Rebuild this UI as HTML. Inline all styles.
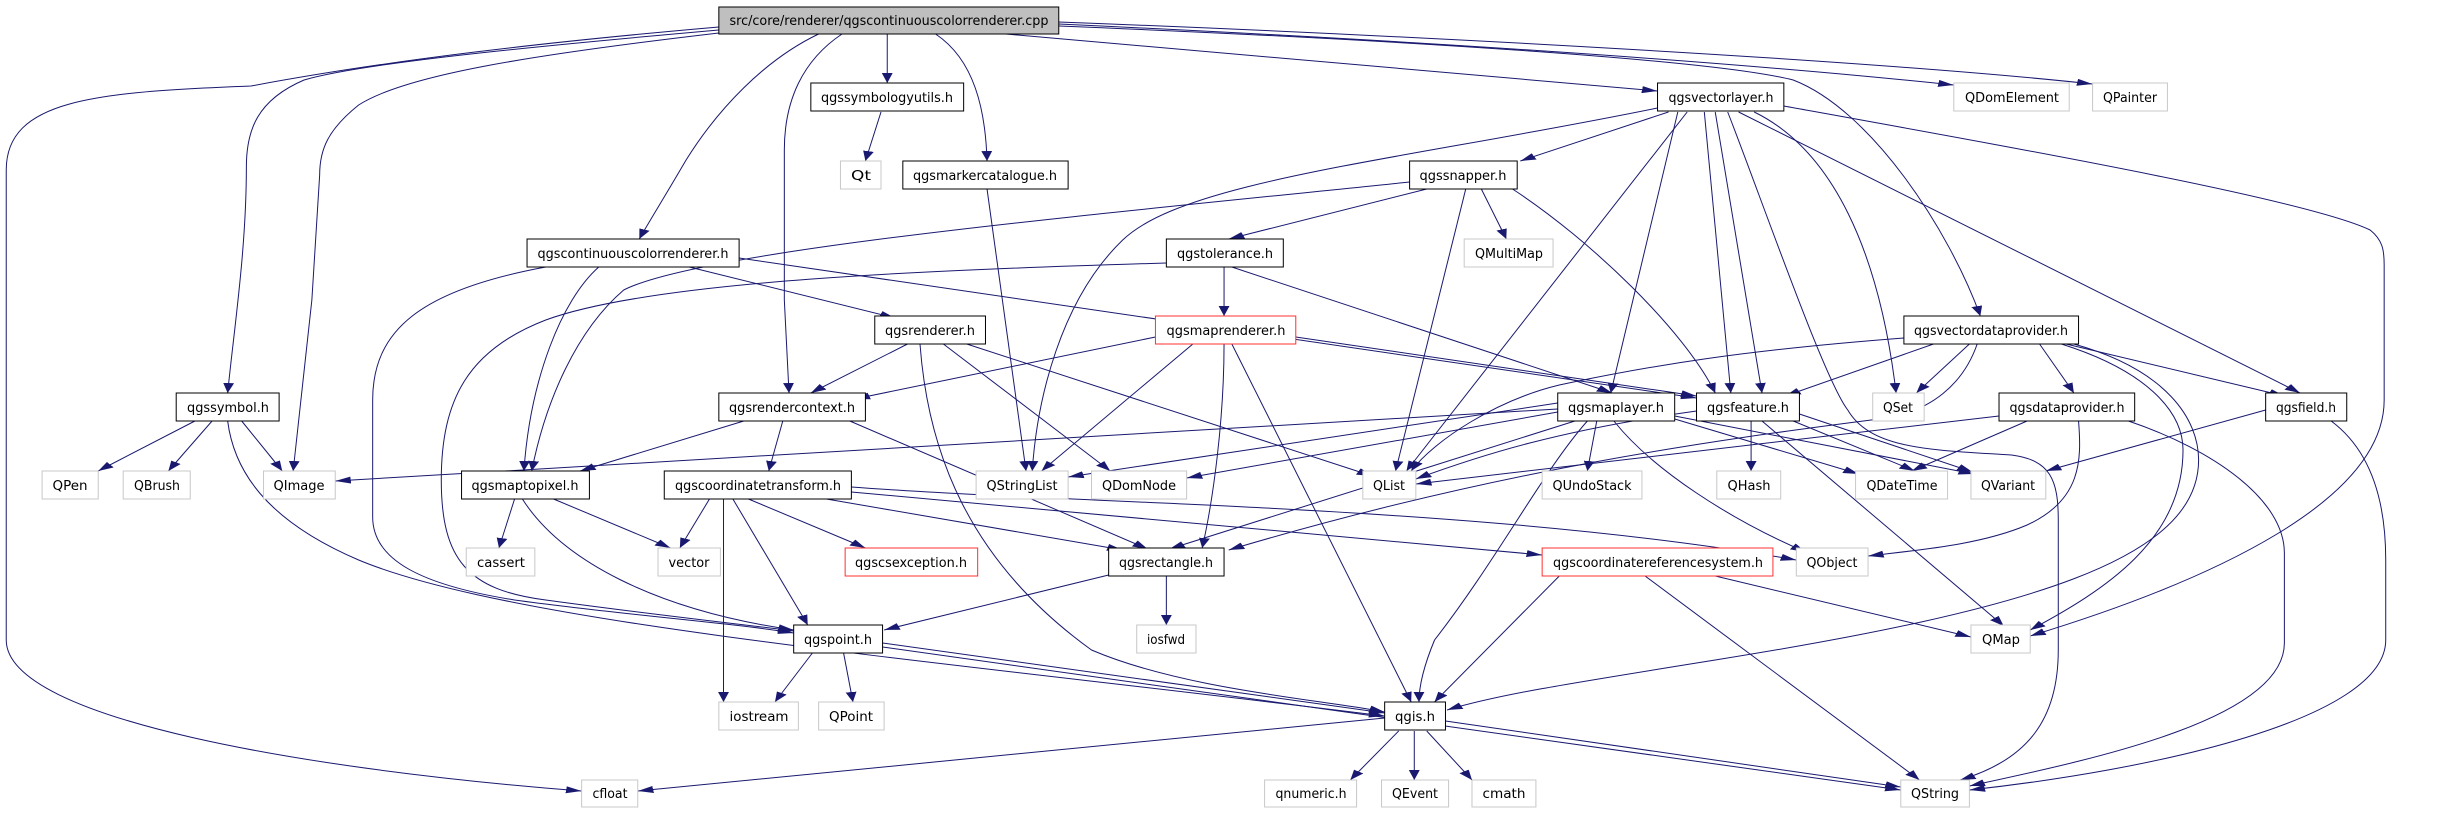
<!DOCTYPE html>
<html><head><meta charset="utf-8"><style>html,body{margin:0;padding:0;background:#fff;}svg{display:block}</style></head>
<body>
<svg width="2445" height="813" viewBox="0 0 2445 813" xmlns="http://www.w3.org/2000/svg">
<defs>
<marker id="a" markerUnits="userSpaceOnUse" markerWidth="10" markerHeight="7" refX="10" refY="3.5" orient="auto"><path d="M0,0 L10,3.5 L0,7 z" fill="#191970"/></marker>
</defs>
<g transform="scale(1.5593,1)">
<g fill="none" stroke="#191970" stroke-width="1" vector-effect="non-scaling-stroke" marker-end="url(#a)">
<path vector-effect="non-scaling-stroke" d="M461,27 C350,42 250,60 161,86 C60,92 4,100 4,170 L4,640 C4,720 200,770 373,791"/>
<path vector-effect="non-scaling-stroke" d="M461,30 C330,48 230,64 195,80 C165,100 158,130 158,167 C158,250 150,330 146,393"/>
<path vector-effect="non-scaling-stroke" d="M461,33 C340,55 260,75 230,105 C210,130 205,150 205,175 L200,300 L188,471"/>
<path vector-effect="non-scaling-stroke" d="M525,34 C490,60 460,110 440,160 C425,200 415,225 410,239"/>
<path vector-effect="non-scaling-stroke" d="M540,34 C515,60 503,100 503,150 L503,300 L506,393"/>
<path vector-effect="non-scaling-stroke" d="M569,34 L569,83"/>
<path vector-effect="non-scaling-stroke" d="M600,34 C625,60 632,110 633,161"/>
<path vector-effect="non-scaling-stroke" d="M645,34 L1063,91"/>
<path vector-effect="non-scaling-stroke" d="M679,24 C900,40 1100,60 1253,85"/>
<path vector-effect="non-scaling-stroke" d="M679,22 C900,35 1200,60 1342,84"/>
<path vector-effect="non-scaling-stroke" d="M679,26 C900,40 1100,60 1150,80 C1200,110 1250,230 1270,316"/>
<path vector-effect="non-scaling-stroke" d="M565,112 L555,161"/>
<path vector-effect="non-scaling-stroke" d="M633,189 L658,471"/>
<path vector-effect="non-scaling-stroke" d="M442,267 L574,318"/>
<path vector-effect="non-scaling-stroke" d="M474,258 L1088,398"/>
<path vector-effect="non-scaling-stroke" d="M384,267 C360,300 340,380 336,471"/>
<path vector-effect="non-scaling-stroke" d="M350,267 C270,290 239,330 239,400 L239,517 C239,560 270,585 330,600 C400,615 470,623 509,633"/>
<path vector-effect="non-scaling-stroke" d="M904,182 C700,215 450,250 400,290 C370,330 350,400 341,471"/>
<path vector-effect="non-scaling-stroke" d="M748,263 C600,270 420,280 350,320 C300,350 283,400 283,480 C283,560 300,590 350,600 C420,615 480,625 509,631"/>
<path vector-effect="non-scaling-stroke" d="M785,267 L785,316"/>
<path vector-effect="non-scaling-stroke" d="M790,267 L1034,393"/>
<path vector-effect="non-scaling-stroke" d="M915,189 L788,239"/>
<path vector-effect="non-scaling-stroke" d="M950,189 L966,239"/>
<path vector-effect="non-scaling-stroke" d="M940,189 L895,471"/>
<path vector-effect="non-scaling-stroke" d="M970,189 C1020,240 1080,330 1100,393"/>
<path vector-effect="non-scaling-stroke" d="M582,344 L520,393"/>
<path vector-effect="non-scaling-stroke" d="M590,344 C595,450 620,560 700,650 C760,690 850,700 888,712"/>
<path vector-effect="non-scaling-stroke" d="M605,344 L712,471"/>
<path vector-effect="non-scaling-stroke" d="M620,344 L880,476"/>
<path vector-effect="non-scaling-stroke" d="M741,337 L548,399"/>
<path vector-effect="non-scaling-stroke" d="M765,344 L668,471"/>
<path vector-effect="non-scaling-stroke" d="M785,344 C785,420 778,500 771,548"/>
<path vector-effect="non-scaling-stroke" d="M790,344 L905,702"/>
<path vector-effect="non-scaling-stroke" d="M831,337 L1088,396"/>
<path vector-effect="non-scaling-stroke" d="M1070,112 L975,161"/>
<path vector-effect="non-scaling-stroke" d="M1063,108 C900,160 760,180 720,240 C680,300 665,400 662,471"/>
<path vector-effect="non-scaling-stroke" d="M1076,112 L1033,393"/>
<path vector-effect="non-scaling-stroke" d="M1082,112 L902,471"/>
<path vector-effect="non-scaling-stroke" d="M1093,112 L1110,393"/>
<path vector-effect="non-scaling-stroke" d="M1100,112 L1130,393"/>
<path vector-effect="non-scaling-stroke" d="M1108,112 C1130,200 1170,380 1185,410 C1200,450 1240,450 1290,455 C1315,460 1320,480 1320,520 L1320,650 C1320,720 1300,760 1257,780"/>
<path vector-effect="non-scaling-stroke" d="M1125,112 C1175,150 1205,250 1216,393"/>
<path vector-effect="non-scaling-stroke" d="M1115,112 L1475,393"/>
<path vector-effect="non-scaling-stroke" d="M1144,106 C1300,150 1480,200 1520,230 C1528,240 1529,250 1529,265 L1529,400 C1529,500 1420,580 1302,636"/>
<path vector-effect="non-scaling-stroke" d="M1240,344 L1145,396"/>
<path vector-effect="non-scaling-stroke" d="M1263,344 L1229,393"/>
<path vector-effect="non-scaling-stroke" d="M1308,344 L1330,393"/>
<path vector-effect="non-scaling-stroke" d="M1325,344 L1465,396"/>
<path vector-effect="non-scaling-stroke" d="M1221,338 C1120,350 1060,365 1000,385 C960,400 920,440 905,471"/>
<path vector-effect="non-scaling-stroke" d="M1268,344 C1260,380 1240,415 1200,420 C1100,440 960,470 788,550"/>
<path vector-effect="non-scaling-stroke" d="M1322,344 C1375,370 1400,410 1400,450 C1400,540 1350,590 1302,630"/>
<path vector-effect="non-scaling-stroke" d="M1330,344 C1390,370 1410,420 1410,460 C1410,560 1300,610 1100,660 C1000,685 960,695 928,710"/>
<path vector-effect="non-scaling-stroke" d="M125,421 L63,471"/>
<path vector-effect="non-scaling-stroke" d="M136,421 L108,471"/>
<path vector-effect="non-scaling-stroke" d="M155,421 L181,471"/>
<path vector-effect="non-scaling-stroke" d="M146,421 C150,470 170,520 230,560 C330,625 600,660 888,716"/>
<path vector-effect="non-scaling-stroke" d="M477,421 L372,471"/>
<path vector-effect="non-scaling-stroke" d="M502,421 L493,471"/>
<path vector-effect="non-scaling-stroke" d="M545,421 L736,549"/>
<path vector-effect="non-scaling-stroke" d="M999,403 L685,477"/>
<path vector-effect="non-scaling-stroke" d="M999,409 L215,481"/>
<path vector-effect="non-scaling-stroke" d="M999,412 L761,478"/>
<path vector-effect="non-scaling-stroke" d="M1010,421 L750,549"/>
<path vector-effect="non-scaling-stroke" d="M1018,421 C990,470 960,560 920,640 C912,670 910,690 910,702"/>
<path vector-effect="non-scaling-stroke" d="M1024,421 L1018,471"/>
<path vector-effect="non-scaling-stroke" d="M1035,421 C1060,470 1110,520 1158,552"/>
<path vector-effect="non-scaling-stroke" d="M1074,419 L1192,474"/>
<path vector-effect="non-scaling-stroke" d="M1074,416 L1266,474"/>
<path vector-effect="non-scaling-stroke" d="M1088,411 C1000,430 950,455 908,479"/>
<path vector-effect="non-scaling-stroke" d="M1123,421 L1123,471"/>
<path vector-effect="non-scaling-stroke" d="M1130,421 L1285,626"/>
<path vector-effect="non-scaling-stroke" d="M1150,421 L1228,471"/>
<path vector-effect="non-scaling-stroke" d="M1154,414 L1265,472"/>
<path vector-effect="non-scaling-stroke" d="M1282,416 L908,484"/>
<path vector-effect="non-scaling-stroke" d="M1300,421 L1226,471"/>
<path vector-effect="non-scaling-stroke" d="M1333,421 C1335,460 1335,500 1300,525 C1270,545 1230,550 1198,556"/>
<path vector-effect="non-scaling-stroke" d="M1365,421 C1420,450 1465,500 1465,553 L1465,643 C1465,720 1340,760 1263,786"/>
<path vector-effect="non-scaling-stroke" d="M1453,410 L1312,471"/>
<path vector-effect="non-scaling-stroke" d="M1495,421 C1520,450 1530,500 1530,560 L1530,640 C1530,720 1380,770 1263,790"/>
<path vector-effect="non-scaling-stroke" d="M455,499 L436,548"/>
<path vector-effect="non-scaling-stroke" d="M464,499 L464,702"/>
<path vector-effect="non-scaling-stroke" d="M470,499 L518,625"/>
<path vector-effect="non-scaling-stroke" d="M480,499 L555,548"/>
<path vector-effect="non-scaling-stroke" d="M530,499 L720,550"/>
<path vector-effect="non-scaling-stroke" d="M546,492 L989,555"/>
<path vector-effect="non-scaling-stroke" d="M546,487 C700,505 950,505 1152,560"/>
<path vector-effect="non-scaling-stroke" d="M330,499 L320,548"/>
<path vector-effect="non-scaling-stroke" d="M355,499 L430,548"/>
<path vector-effect="non-scaling-stroke" d="M335,499 C360,560 420,610 509,630"/>
<path vector-effect="non-scaling-stroke" d="M711,575 L567,630"/>
<path vector-effect="non-scaling-stroke" d="M748,576 L748,625"/>
<path vector-effect="non-scaling-stroke" d="M521,653 L497,702"/>
<path vector-effect="non-scaling-stroke" d="M541,653 L547,702"/>
<path vector-effect="non-scaling-stroke" d="M566,643 L888,713"/>
<path vector-effect="non-scaling-stroke" d="M566,647 L1219,790"/>
<path vector-effect="non-scaling-stroke" d="M888,718 L409,791"/>
<path vector-effect="non-scaling-stroke" d="M897,731 L866,780"/>
<path vector-effect="non-scaling-stroke" d="M907,731 L907,780"/>
<path vector-effect="non-scaling-stroke" d="M915,731 L944,780"/>
<path vector-effect="non-scaling-stroke" d="M927,721 L1219,787"/>
<path vector-effect="non-scaling-stroke" d="M1000,576 L920,702"/>
<path vector-effect="non-scaling-stroke" d="M1100,576 L1264,637"/>
<path vector-effect="non-scaling-stroke" d="M1055,576 L1231,780"/>
</g>
<g stroke-width="1">
<rect x="461" y="7" width="218" height="27" fill="#bfbfbf" stroke="#000" vector-effect="non-scaling-stroke"/>
<g fill="#fff" stroke="#000">
<rect vector-effect="non-scaling-stroke" x="520" y="83" width="98" height="28"/>
<rect vector-effect="non-scaling-stroke" x="579" y="161" width="106" height="28"/>
<rect vector-effect="non-scaling-stroke" x="1063" y="83" width="81" height="28"/>
<rect vector-effect="non-scaling-stroke" x="904" y="161" width="69" height="28"/>
<rect vector-effect="non-scaling-stroke" x="338" y="239" width="136" height="28"/>
<rect vector-effect="non-scaling-stroke" x="748" y="239" width="75" height="28"/>
<rect vector-effect="non-scaling-stroke" x="561" y="316" width="71" height="28"/>
<rect vector-effect="non-scaling-stroke" x="1221" y="316" width="112" height="28"/>
<rect vector-effect="non-scaling-stroke" x="113" y="393" width="66" height="28"/>
<rect vector-effect="non-scaling-stroke" x="461" y="393" width="94" height="28"/>
<rect vector-effect="non-scaling-stroke" x="999" y="393" width="75" height="28"/>
<rect vector-effect="non-scaling-stroke" x="1088" y="393" width="66" height="28"/>
<rect vector-effect="non-scaling-stroke" x="1282" y="393" width="87" height="28"/>
<rect vector-effect="non-scaling-stroke" x="1453" y="393" width="52" height="28"/>
<rect vector-effect="non-scaling-stroke" x="296" y="471" width="82" height="28"/>
<rect vector-effect="non-scaling-stroke" x="426" y="471" width="120" height="28"/>
<rect vector-effect="non-scaling-stroke" x="711" y="548" width="74" height="28"/>
<rect vector-effect="non-scaling-stroke" x="509" y="625" width="57" height="28"/>
<rect vector-effect="non-scaling-stroke" x="888" y="702" width="39" height="28"/>
</g>
<g fill="#fff" stroke="#ff3030">
<rect vector-effect="non-scaling-stroke" x="741" y="316" width="90" height="28"/>
<rect vector-effect="non-scaling-stroke" x="542" y="548" width="85" height="28"/>
<rect vector-effect="non-scaling-stroke" x="989" y="548" width="148" height="28"/>
</g>
<g fill="#fff" stroke="#c8c8c8">
<rect vector-effect="non-scaling-stroke" x="539" y="161" width="26" height="28"/>
<rect vector-effect="non-scaling-stroke" x="1253" y="83" width="74" height="28"/>
<rect vector-effect="non-scaling-stroke" x="1342" y="83" width="48" height="28"/>
<rect vector-effect="non-scaling-stroke" x="939" y="239" width="57" height="28"/>
<rect vector-effect="non-scaling-stroke" x="1201" y="393" width="33" height="28"/>
<rect vector-effect="non-scaling-stroke" x="27" y="471" width="36" height="28"/>
<rect vector-effect="non-scaling-stroke" x="79" y="471" width="43" height="28"/>
<rect vector-effect="non-scaling-stroke" x="169" y="471" width="46" height="28"/>
<rect vector-effect="non-scaling-stroke" x="626" y="471" width="59" height="28"/>
<rect vector-effect="non-scaling-stroke" x="700" y="471" width="61" height="28"/>
<rect vector-effect="non-scaling-stroke" x="874" y="471" width="34" height="28"/>
<rect vector-effect="non-scaling-stroke" x="989" y="471" width="64" height="28"/>
<rect vector-effect="non-scaling-stroke" x="1101" y="471" width="41" height="28"/>
<rect vector-effect="non-scaling-stroke" x="1190" y="471" width="59" height="28"/>
<rect vector-effect="non-scaling-stroke" x="1264" y="471" width="48" height="28"/>
<rect vector-effect="non-scaling-stroke" x="299" y="548" width="44" height="28"/>
<rect vector-effect="non-scaling-stroke" x="422" y="548" width="40" height="28"/>
<rect vector-effect="non-scaling-stroke" x="1152" y="548" width="46" height="28"/>
<rect vector-effect="non-scaling-stroke" x="729" y="625" width="38" height="28"/>
<rect vector-effect="non-scaling-stroke" x="1264" y="625" width="38" height="28"/>
<rect vector-effect="non-scaling-stroke" x="461" y="702" width="51" height="28"/>
<rect vector-effect="non-scaling-stroke" x="525" y="702" width="42" height="28"/>
<rect vector-effect="non-scaling-stroke" x="373" y="780" width="36" height="27"/>
<rect vector-effect="non-scaling-stroke" x="811" y="780" width="59" height="27"/>
<rect vector-effect="non-scaling-stroke" x="886" y="780" width="43" height="27"/>
<rect vector-effect="non-scaling-stroke" x="944" y="780" width="41" height="27"/>
<rect vector-effect="non-scaling-stroke" x="1219" y="780" width="44" height="27"/>
</g>
</g>
</g>
<g font-family="'DejaVu Sans','Liberation Sans',sans-serif" font-size="13" text-anchor="middle" fill="#000">
<text x="889" y="25" textLength="319" lengthAdjust="spacingAndGlyphs">src/core/renderer/qgscontinuouscolorrenderer.cpp</text>
<text x="887" y="102" textLength="132" lengthAdjust="spacingAndGlyphs">qgssymbologyutils.h</text>
<text x="1721" y="102" textLength="105" lengthAdjust="spacingAndGlyphs">qgsvectorlayer.h</text>
<text x="2012" y="102" textLength="94" lengthAdjust="spacingAndGlyphs">QDomElement</text>
<text x="2130" y="102" textLength="54" lengthAdjust="spacingAndGlyphs">QPainter</text>
<text x="861" y="180" textLength="20" lengthAdjust="spacingAndGlyphs">Qt</text>
<text x="985" y="180" textLength="144" lengthAdjust="spacingAndGlyphs">qgsmarkercatalogue.h</text>
<text x="1463" y="180" textLength="87" lengthAdjust="spacingAndGlyphs">qgssnapper.h</text>
<text x="633" y="258" textLength="191" lengthAdjust="spacingAndGlyphs">qgscontinuouscolorrenderer.h</text>
<text x="1225" y="258" textLength="96" lengthAdjust="spacingAndGlyphs">qgstolerance.h</text>
<text x="1509" y="258" textLength="68" lengthAdjust="spacingAndGlyphs">QMultiMap</text>
<text x="930" y="335" textLength="90" lengthAdjust="spacingAndGlyphs">qgsrenderer.h</text>
<text x="1226" y="335" textLength="119" lengthAdjust="spacingAndGlyphs">qgsmaprenderer.h</text>
<text x="1991" y="335" textLength="154" lengthAdjust="spacingAndGlyphs">qgsvectordataprovider.h</text>
<text x="228" y="412" textLength="82" lengthAdjust="spacingAndGlyphs">qgssymbol.h</text>
<text x="792" y="412" textLength="126" lengthAdjust="spacingAndGlyphs">qgsrendercontext.h</text>
<text x="1616" y="412" textLength="96" lengthAdjust="spacingAndGlyphs">qgsmaplayer.h</text>
<text x="1748" y="412" textLength="82" lengthAdjust="spacingAndGlyphs">qgsfeature.h</text>
<text x="1898" y="412" textLength="30" lengthAdjust="spacingAndGlyphs">QSet</text>
<text x="2067" y="412" textLength="115" lengthAdjust="spacingAndGlyphs">qgsdataprovider.h</text>
<text x="2306" y="412" textLength="60" lengthAdjust="spacingAndGlyphs">qgsfield.h</text>
<text x="70" y="490" textLength="35" lengthAdjust="spacingAndGlyphs">QPen</text>
<text x="157" y="490" textLength="46" lengthAdjust="spacingAndGlyphs">QBrush</text>
<text x="299" y="490" textLength="51" lengthAdjust="spacingAndGlyphs">QImage</text>
<text x="525" y="490" textLength="107" lengthAdjust="spacingAndGlyphs">qgsmaptopixel.h</text>
<text x="758" y="490" textLength="166" lengthAdjust="spacingAndGlyphs">qgscoordinatetransform.h</text>
<text x="1022" y="490" textLength="71" lengthAdjust="spacingAndGlyphs">QStringList</text>
<text x="1139" y="490" textLength="74" lengthAdjust="spacingAndGlyphs">QDomNode</text>
<text x="1389" y="490" textLength="32" lengthAdjust="spacingAndGlyphs">QList</text>
<text x="1592" y="490" textLength="79" lengthAdjust="spacingAndGlyphs">QUndoStack</text>
<text x="1749" y="490" textLength="43" lengthAdjust="spacingAndGlyphs">QHash</text>
<text x="1902" y="490" textLength="71" lengthAdjust="spacingAndGlyphs">QDateTime</text>
<text x="2008" y="490" textLength="54" lengthAdjust="spacingAndGlyphs">QVariant</text>
<text x="501" y="567" textLength="48" lengthAdjust="spacingAndGlyphs">cassert</text>
<text x="689" y="567" textLength="41" lengthAdjust="spacingAndGlyphs">vector</text>
<text x="911" y="567" textLength="112" lengthAdjust="spacingAndGlyphs">qgscsexception.h</text>
<text x="1166" y="567" textLength="94" lengthAdjust="spacingAndGlyphs">qgsrectangle.h</text>
<text x="1658" y="567" textLength="210" lengthAdjust="spacingAndGlyphs">qgscoordinatereferencesystem.h</text>
<text x="1832" y="567" textLength="51" lengthAdjust="spacingAndGlyphs">QObject</text>
<text x="838" y="644" textLength="68" lengthAdjust="spacingAndGlyphs">qgspoint.h</text>
<text x="1166" y="644" textLength="38" lengthAdjust="spacingAndGlyphs">iosfwd</text>
<text x="2001" y="644" textLength="38" lengthAdjust="spacingAndGlyphs">QMap</text>
<text x="759" y="721" textLength="59" lengthAdjust="spacingAndGlyphs">iostream</text>
<text x="851" y="721" textLength="44" lengthAdjust="spacingAndGlyphs">QPoint</text>
<text x="1415" y="721" textLength="40" lengthAdjust="spacingAndGlyphs">qgis.h</text>
<text x="610" y="798" textLength="35" lengthAdjust="spacingAndGlyphs">cfloat</text>
<text x="1311" y="798" textLength="71" lengthAdjust="spacingAndGlyphs">qnumeric.h</text>
<text x="1415" y="798" textLength="46" lengthAdjust="spacingAndGlyphs">QEvent</text>
<text x="1504" y="798" textLength="43" lengthAdjust="spacingAndGlyphs">cmath</text>
<text x="1935" y="798" textLength="48" lengthAdjust="spacingAndGlyphs">QString</text>
</g>
</svg>
</body></html>
